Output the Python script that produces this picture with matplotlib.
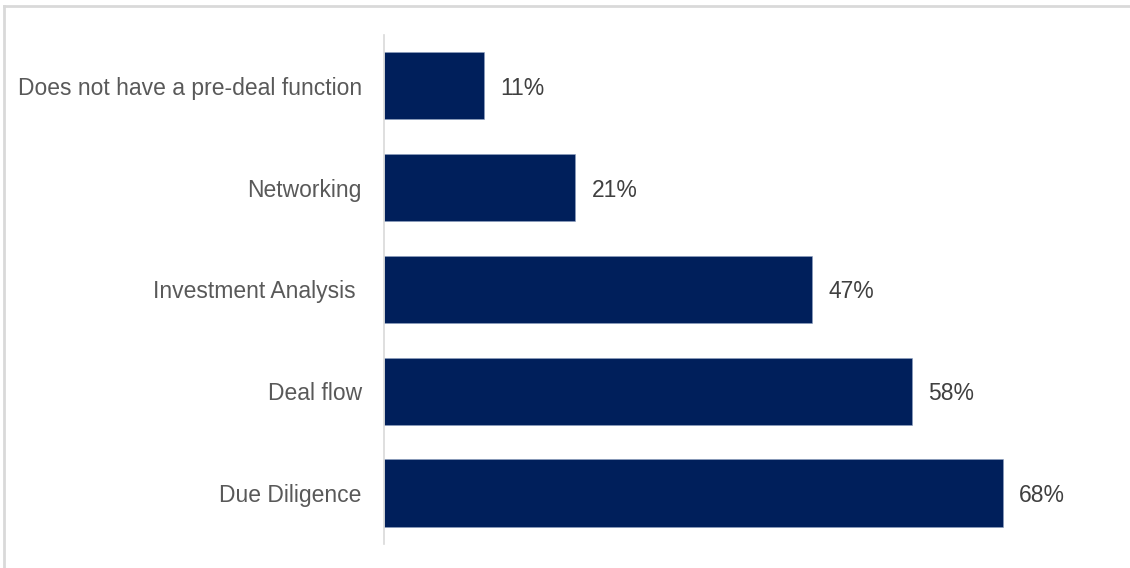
import matplotlib.pyplot as plt
from matplotlib.lines import Line2D

# data
categories = ["Due Diligence", "Deal flow", "Investment Analysis ",
              "Networking", "Does not have a pre-deal function"]
values = [68, 58, 47, 21, 11]

BAR_COLOR = "#001F5B"
TEXT_COLOR = "#595959"

plt.rcParams["font.family"] = ["Liberation Sans", "DejaVu Sans"]

fig = plt.figure(figsize=(11.30, 5.68), dpi=100)
ax = fig.add_axes([0.3398, 0.0423, 0.6040, 0.8961])

ypos = range(len(categories))
bars = ax.barh(ypos, values, height=0.66, color=BAR_COLOR,
               edgecolor="#8EA0C0", linewidth=0.4)

for bar, v in zip(bars, values):
    ax.text(bar.get_width() + 1.8, bar.get_y() + bar.get_height() / 2,
            f"{v}%", va="center_baseline", ha="left", fontsize=16.5,
            color="#404040")

ax.set_yticks(list(ypos))
ax.set_yticklabels(categories, fontsize=16.5, color=TEXT_COLOR)
ax.tick_params(axis="y", length=0, pad=16)
ax.set_xticks([])
ax.set_xlim(0, 75)
ax.set_ylim(-0.5, len(categories) - 0.5)

for side in ["top", "right", "bottom"]:
    ax.spines[side].set_visible(False)
ax.spines["left"].set_color("#D9D9D9")
ax.spines["left"].set_linewidth(1.2)

# light frame around the chart area (top and left edges visible)
fig.add_artist(Line2D([0.0035, 1.0], [0.9903, 0.9903], color="#D9D9D9", lw=2))
fig.add_artist(Line2D([0.0035, 0.0035], [0.0, 0.9903], color="#D9D9D9", lw=2))

fig.savefig("out.png", dpi=100, facecolor="white")
